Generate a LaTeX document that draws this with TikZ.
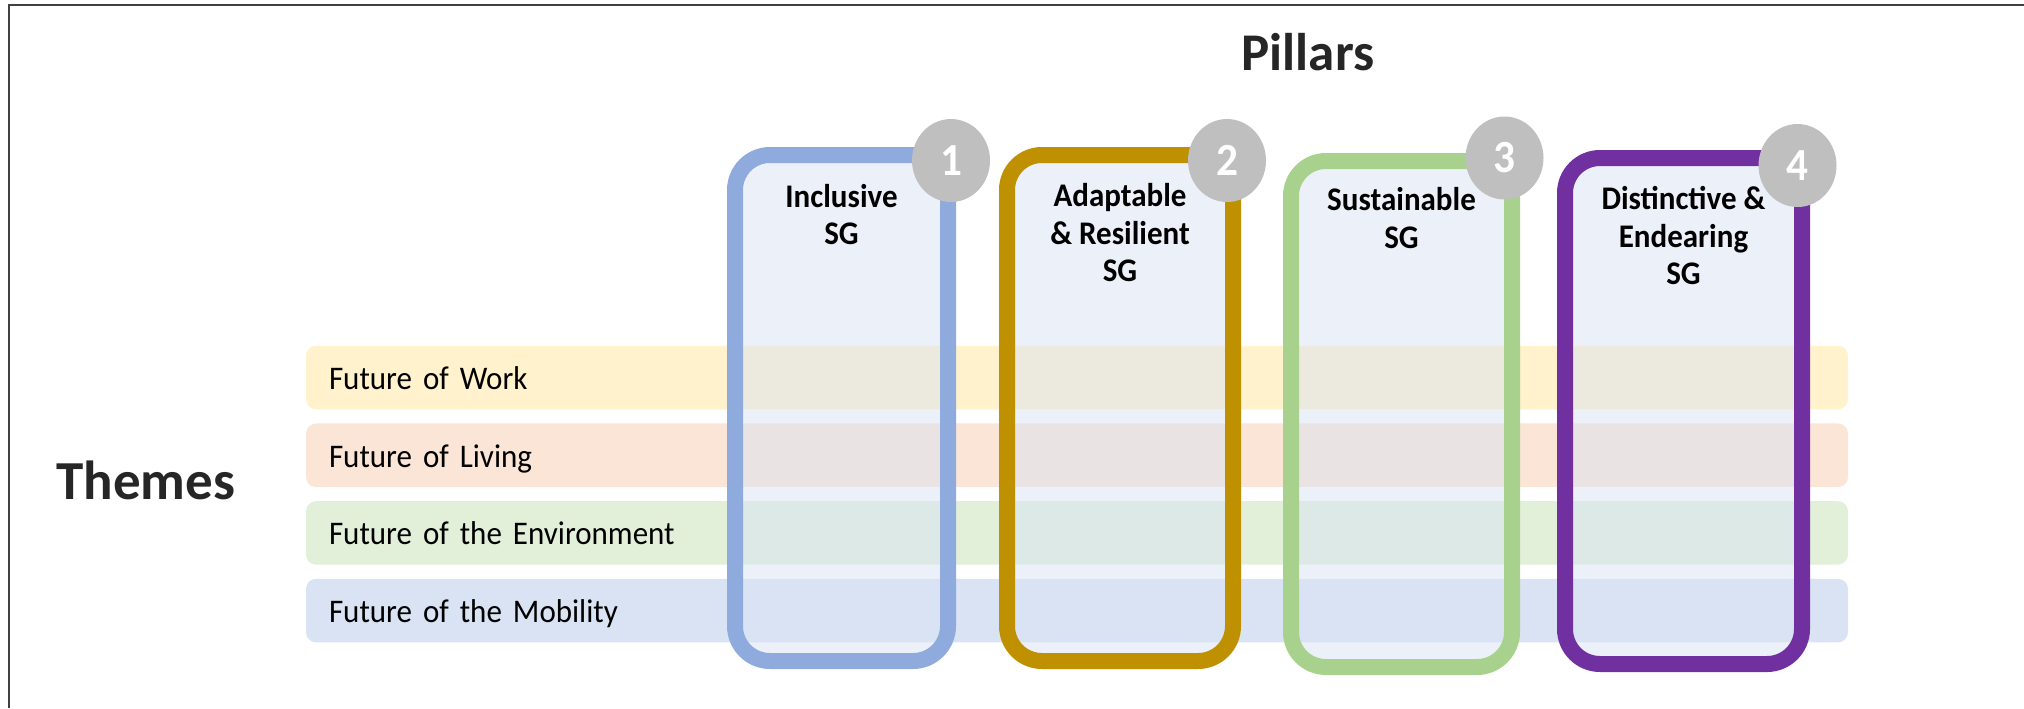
\documentclass[tikz,border=0pt]{standalone}
\usepackage{fontspec}
\setmainfont{Carlito}[FakeStretch=0.94]
\newfontfamily\headfont{Carlito}
\usetikzlibrary{positioning,shapes.geometric}

\definecolor{workyellow}{HTML}{FFF2CC}
\definecolor{livingorange}{HTML}{FBE5D6}
\definecolor{envgreen}{HTML}{E2F0D9}
\definecolor{mobilityblue}{HTML}{DAE3F3}
\definecolor{pillarfill}{HTML}{DAE3F3}
\definecolor{inclblue}{HTML}{8FAADC}
\definecolor{adaptgold}{HTML}{BF9000}
\definecolor{sustgreen}{HTML}{A9D18E}
\definecolor{distpurple}{HTML}{7030A0}
\definecolor{badgegrey}{HTML}{BFBFBF}

\tikzset{
  themebar/.style={rectangle, rounded corners=5pt, minimum width=771pt, minimum height=31.75pt,
    text width=748pt, inner xsep=11.5pt, align=left, text height=14pt, text depth=2.2pt,
    font=\fontsize{16.5}{19}\selectfont},
  pillar/.style={rectangle, rounded corners=17.5pt, line width=8pt, fill=pillarfill,
    fill opacity=0.5, minimum height=253pt},
  pillartitle/.style={align=center, inner sep=0pt, font=\bfseries\fontsize{16.5}{18.75}\selectfont},
  badge/.style={ellipse, fill=badgegrey, minimum width=39pt, minimum height=41.5pt, inner sep=0pt,
    text=white, font=\bfseries\fontsize{23}{23}\selectfont},
  heading/.style={text=black!85, inner sep=0pt, font=\headfont\bfseries\fontsize{26.5}{30}\selectfont}
}

\begin{document}
\begin{tikzpicture}[x=0.5pt,y=-0.5pt]
    \useasboundingbox (0,0) rectangle (2024,708);
    \draw[black!75, line width=1pt] (9,708) -- (9,4.5) -- (2024,4.5);

    \node[heading, anchor=base] (pillarshead) at (1308,70.7) {Pillars};
    \node[heading, anchor=base west, font=\headfont\bfseries\fontsize{27.5}{30}\selectfont] (themeshead) at (56,499.3) {Themes};

    \foreach \i/\c/\t in {0/workyellow/Future of Work, 1/livingorange/Future of Living,
        2/envgreen/Future of the Environment, 3/mobilityblue/Future of the Mobility}{
        \node[themebar, fill=\c] (bar\i) at (1077,377.5+77.7*\i) {\t};
    }

    \node[pillar, draw=inclblue, minimum width=106.5pt] (incl) at (841.5,408) {};
    \node[pillar, draw=adaptgold, minimum width=113pt] (adapt) at (1120,408) {};
    \node[pillar, draw=sustgreen, minimum width=110.5pt] (sust) at (1401.5,414) {};
    \node[pillar, draw=distpurple, minimum width=118.5pt] (dist) at (1683.5,411) {};

    \node[pillartitle, below=18.3pt of incl.north] (incltitle) {Inclusive\\SG};
    \node[pillartitle, below=18pt of adapt.north] (adapttitle) {Adaptable\\\& Resilient\\SG};
    \node[pillartitle, below=17.2pt of sust.north] (susttitle) {Sustainable\\SG};
    \node[pillartitle, below=18pt of dist.north] (disttitle) {Distinctive \&\\Endearing\\SG};

    \node[badge] (badge1) at (951,160.5) {1};
    \node[badge] (badge2) at (1227,160.5) {2};
    \node[badge] (badge3) at (1504.5,158) {3};
    \node[badge] (badge4) at (1797.5,165.5) {4};
\end{tikzpicture}
\end{document}
